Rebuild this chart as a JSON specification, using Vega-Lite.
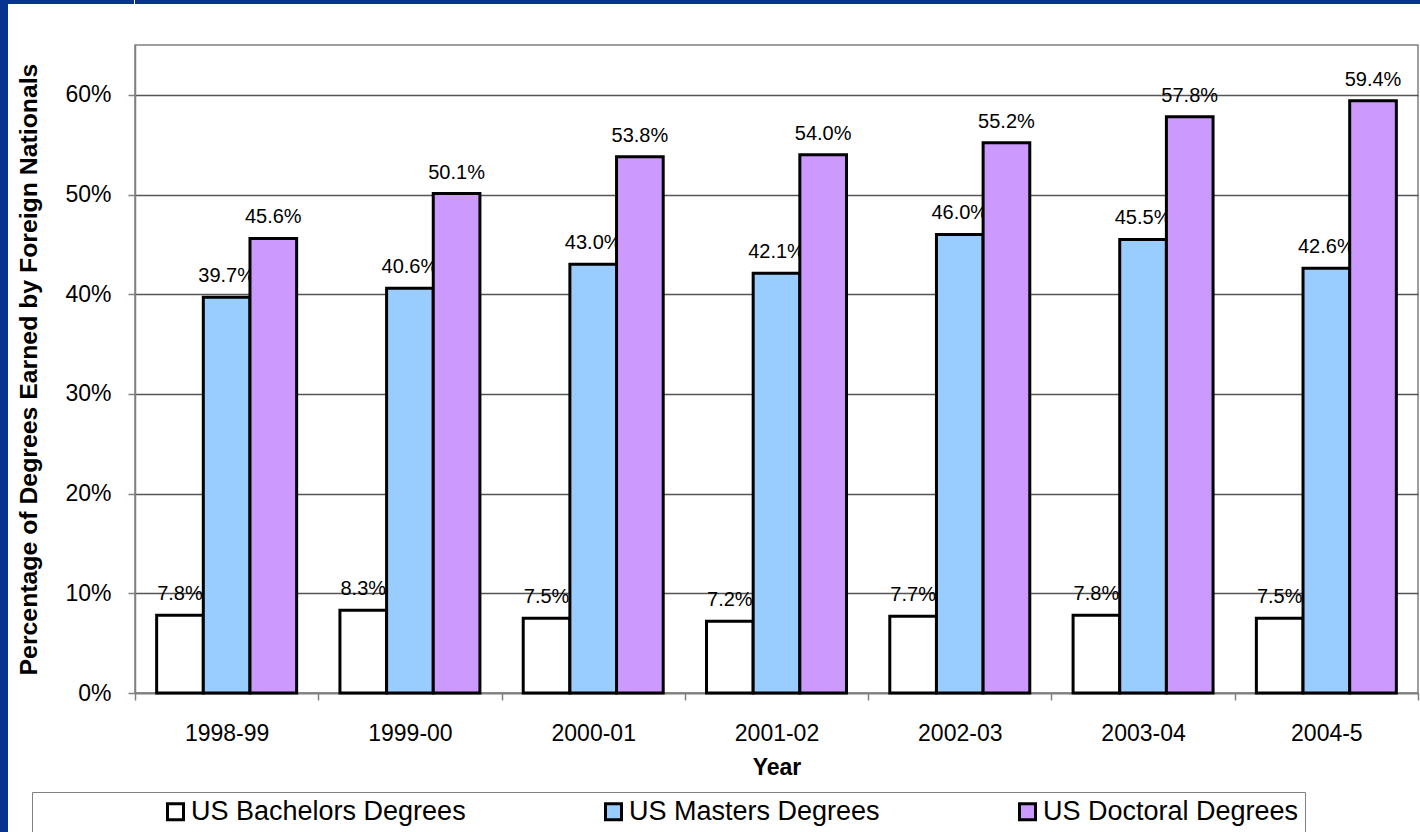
{
  "$schema": "https://vega.github.io/schema/vega-lite/v6.json",
  "background": "white",
  "padding": 0,
  "config": {
    "font": "Liberation Sans",
    "view": {"stroke": null}
  },
  "spacing": -118,
  "hconcat": [
    {
      "spacing": 0,
      "vconcat": [
        {
          "width": 134,
          "height": 4,
          "view": {"fill": "#07348f", "stroke": null},
          "data": {"values": []},
          "mark": {"type": "rect", "opacity": 0},
          "encoding": {}
        },
        {
          "width": 8,
          "height": 828,
          "view": {"fill": "#07348f", "stroke": null},
          "data": {"values": []},
          "mark": {"type": "rect", "opacity": 0},
          "encoding": {}
        }
      ]
    },
    {
      "spacing": 40,
      "vconcat": [
        {
          "width": 1290,
          "height": 4,
          "view": {"fill": "#07348f", "stroke": null},
          "data": {"values": []},
          "mark": {"type": "rect", "opacity": 0},
          "encoding": {}
        },
        {
          "width": 1283,
          "height": 648,
          "view": {"stroke": "#808080", "strokeWidth": 1.5},
          "data": {
            "values": [
              {"year": "1998-99", "degree": "US Bachelors Degrees", "share": 0.078},
              {"year": "1998-99", "degree": "US Masters Degrees", "share": 0.397},
              {"year": "1998-99", "degree": "US Doctoral Degrees", "share": 0.456},
              {"year": "1999-00", "degree": "US Bachelors Degrees", "share": 0.083},
              {"year": "1999-00", "degree": "US Masters Degrees", "share": 0.406},
              {"year": "1999-00", "degree": "US Doctoral Degrees", "share": 0.501},
              {"year": "2000-01", "degree": "US Bachelors Degrees", "share": 0.075},
              {"year": "2000-01", "degree": "US Masters Degrees", "share": 0.430},
              {"year": "2000-01", "degree": "US Doctoral Degrees", "share": 0.538},
              {"year": "2001-02", "degree": "US Bachelors Degrees", "share": 0.072},
              {"year": "2001-02", "degree": "US Masters Degrees", "share": 0.421},
              {"year": "2001-02", "degree": "US Doctoral Degrees", "share": 0.540},
              {"year": "2002-03", "degree": "US Bachelors Degrees", "share": 0.077},
              {"year": "2002-03", "degree": "US Masters Degrees", "share": 0.460},
              {"year": "2002-03", "degree": "US Doctoral Degrees", "share": 0.552},
              {"year": "2003-04", "degree": "US Bachelors Degrees", "share": 0.078},
              {"year": "2003-04", "degree": "US Masters Degrees", "share": 0.455},
              {"year": "2003-04", "degree": "US Doctoral Degrees", "share": 0.578},
              {"year": "2004-5", "degree": "US Bachelors Degrees", "share": 0.075},
              {"year": "2004-5", "degree": "US Masters Degrees", "share": 0.426},
              {"year": "2004-5", "degree": "US Doctoral Degrees", "share": 0.594}
            ]
          },
          "encoding": {
            "x": {
              "field": "year",
              "type": "nominal",
              "sort": null,
              "title": "Year",
              "scale": {"paddingInner": 0, "paddingOuter": 0},
              "axis": {
                "labelAngle": 0,
                "tickBand": "extent",
                "tickSize": 7,
                "tickColor": "#808080",
                "tickWidth": 1.5,
                "domainColor": "#808080",
                "domainWidth": 1.5,
                "labelPadding": 22,
                "labelFontSize": 23,
                "labelColor": "black",
                "titleFontSize": 23,
                "titleFontWeight": "bold",
                "titleColor": "black",
                "titlePadding": 11,
                "grid": false
              }
            },
            "xOffset": {
              "field": "degree",
              "type": "nominal",
              "sort": ["US Bachelors Degrees", "US Masters Degrees", "US Doctoral Degrees"],
              "scale": {"paddingInner": 0, "paddingOuter": 0.464}
            },
            "y": {
              "field": "share",
              "type": "quantitative",
              "title": "Percentage of Degrees Earned by Foreign Nationals",
              "scale": {"domain": [0, 0.65], "nice": false},
              "axis": {
                "values": [0, 0.1, 0.2, 0.3, 0.4, 0.5, 0.6],
                "format": ".0%",
                "grid": true,
                "gridColor": "#555555",
                "gridWidth": 1.3,
                "tickSize": 7,
                "tickColor": "#808080",
                "tickWidth": 1.5,
                "domainColor": "#808080",
                "domainWidth": 1.5,
                "labelPadding": 17,
                "labelFontSize": 23,
                "labelColor": "black",
                "titleFontSize": 24.8,
                "titleFontWeight": "bold",
                "titleColor": "black",
                "titlePadding": 23
              }
            }
          },
          "layer": [
            {
              "mark": {"type": "text", "baseline": "alphabetic", "dy": -15, "fontSize": 20, "color": "black"},
              "encoding": {
                "text": {"field": "share", "type": "quantitative", "format": ".1%"}
              }
            },
            {
              "mark": {"type": "bar", "stroke": "black", "strokeWidth": 3},
              "encoding": {
                "color": {
                  "field": "degree",
                  "type": "nominal",
                  "sort": ["US Bachelors Degrees", "US Masters Degrees", "US Doctoral Degrees"],
                  "scale": {
                    "domain": ["US Bachelors Degrees", "US Masters Degrees", "US Doctoral Degrees"],
                    "range": ["#ffffff", "#99ccff", "#cc99ff"]
                  },
                  "legend": {
                    "orient": "none",
                    "legendX": 32,
                    "legendY": 792,
                    "direction": "horizontal",
                    "title": null,
                    "symbolType": "square",
                    "symbolSize": 256,
                    "symbolStrokeColor": "black",
                    "symbolStrokeWidth": 3,
                    "symbolOffset": 124,
                    "labelOffset": 2,
                    "labelFontSize": 27,
                    "labelColor": "black",
                    "labelLimit": 500,
                    "columnPadding": 10,
                    "padding": 6,
                    "strokeColor": "#808080",
                    "fillColor": "white"
                  }
                }
              }
            }
          ]
        }
      ]
    }
  ]
}
